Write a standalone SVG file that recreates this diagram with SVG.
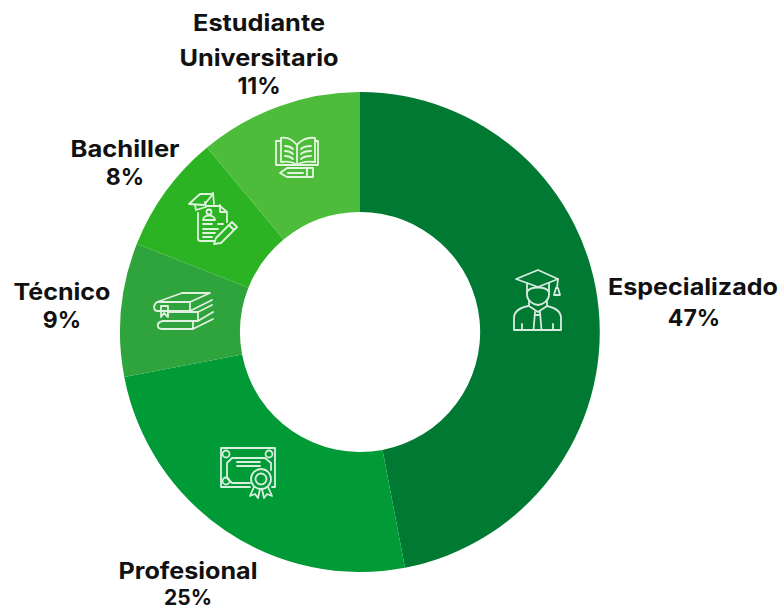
<svg xmlns="http://www.w3.org/2000/svg" width="780" height="610" viewBox="0 0 780 610">
<style>
text{font-family:"Inter","Liberation Sans",sans-serif;font-weight:700;font-size:23px;fill:#111;text-anchor:middle}
.i{fill:none;stroke:#fff;stroke-width:1.800;stroke-linejoin:round;stroke-linecap:round;opacity:.85}
</style>
<rect width="780" height="610" fill="#fff"/>
<g id="especializado">
<path d="M360 92A240 240 0 0 1 405 567.700L382.500 449.900A120 120 0 0 0 360 212Z" fill="#007a33"/>
<g class="i">
<path d="M516 279L538 270 558 279 538 287Z"/>
<path d="M527 283V295C527 300 533 305 538 305 543 305 549 300 549 295V283"/>
<path d="M527 292C530 286 546 286 549 292"/>
<path d="M558 279L557 288M554 295L556 288H558L560 295Z"/>
<path d="M529 301V306L538 312 547 306V301"/>
<path d="M528 306C519 308 514 312 514 318V330H561V318C561 312 556 308 547 306"/>
<path d="M535 312L533.500 330M540 312L541.500 330M535 315H540M522 330V324M553 330V324"/>
</g>
<text x="693" y="295" textLength="170" lengthAdjust="spacingAndGlyphs">Especializado</text>
<text x="694" y="326">47%</text>
</g>
<g id="profesional">
<path d="M405 567.700A240 240 0 0 1 124.300 377L242.100 354.500A120 120 0 0 0 382.500 449.900Z" fill="#009a36"/>
<g class="i">
<path d="M250 487H221V448H275V487H272"/>
<path d="M250 483H232L227 478V463L232 458H265L271 463V470"/>
<path d="M237 462H260M237 466H260"/>
<circle cx="226" cy="454" r="3.500"/><circle cx="269" cy="454" r="3.500"/><circle cx="226" cy="481" r="3.500"/>
<circle cx="261" cy="479" r="10"/><circle cx="261" cy="479" r="5.500"/>
<path d="M254 487L250 496 255 494 258 498 260 489M262 489L264 498 267 494 272 496 268 487"/>
</g>
<text x="188" y="579" textLength="139" lengthAdjust="spacingAndGlyphs">Profesional</text>
<text x="188" y="604.800" style="font-size:21px">25%</text>
</g>
<g id="tecnico">
<path d="M124.300 377A240 240 0 0 1 136.900 243.700L248.400 287.800A120 120 0 0 0 242.100 354.500Z" fill="#2fa33c"/>
<g class="i">
<path d="M157 302L182 293H210L190 302ZM157 302C153 305 153 311 158 311H190V302M190 311L212 300M168 312H198V321M198 312L212 305M198 321H163C156 322 156 329 163 329H193L213 319M193 321V329M198 321L213 312"/>
<path d="M161 306H168V317L164 313 161 317Z"/>
</g>
<text x="62" y="300" textLength="97" lengthAdjust="spacingAndGlyphs">Técnico</text>
<text x="62" y="328">9%</text>
</g>
<g id="bachiller">
<path d="M136.900 243.700A240 240 0 0 1 207 147.500L283.600 239.500A120 120 0 0 0 248.400 287.800Z" fill="#2bb324"/>
<g class="i">
<path d="M189 204L200 194H213L204 205Z"/>
<path d="M195 205L196 210 206 207 205 202M213 193L214 204"/>
<path d="M198 213V239Q198 241 201 241H214M207 206H220L227 212V222M220 205V212H227"/>
<circle cx="209" cy="212" r="2.500"/>
<path d="M203 220C203 214 215 214 215 220ZM203 224H212M218 224H223M203 229H218M203 233H215M203 237H212"/>
<path d="M216 238L232 222 237 227 221 243 214 244ZM229 225L234 230"/>
</g>
<text x="125" y="157" textLength="109" lengthAdjust="spacingAndGlyphs">Bachiller</text>
<text x="125" y="185">8%</text>
</g>
<g id="estudiante">
<path d="M207 147.500A240 240 0 0 1 360 92V212A120 120 0 0 0 283.600 239.500Z" fill="#4dbc3b"/>
<g class="i">
<path d="M297 145C292 139 286 137 281 138V162C287 161 293 162 297 165 301 162 308 161 315 162V138C308 137 302 139 297 145ZM297 145V165"/>
<path d="M281 141H276V165H318V141H315"/>
<path d="M285 146C288 146 291 147 293 149M285 151C288 151 291 152 293 154M285 156C288 156 291 157 293 159M301 149C303 147 306 146 311 146M301 154C303 152 306 151 311 151M301 159C303 157 306 156 311 156"/>
<path d="M280 173L287 168H313V177H287ZM307 168V177M288 173H303"/>
</g>
<text x="259" y="31" textLength="132" lengthAdjust="spacingAndGlyphs">Estudiante</text>
<text x="259" y="66" textLength="159" lengthAdjust="spacingAndGlyphs">Universitario</text>
<text x="259" y="94">11%</text>
</g>
</svg>
